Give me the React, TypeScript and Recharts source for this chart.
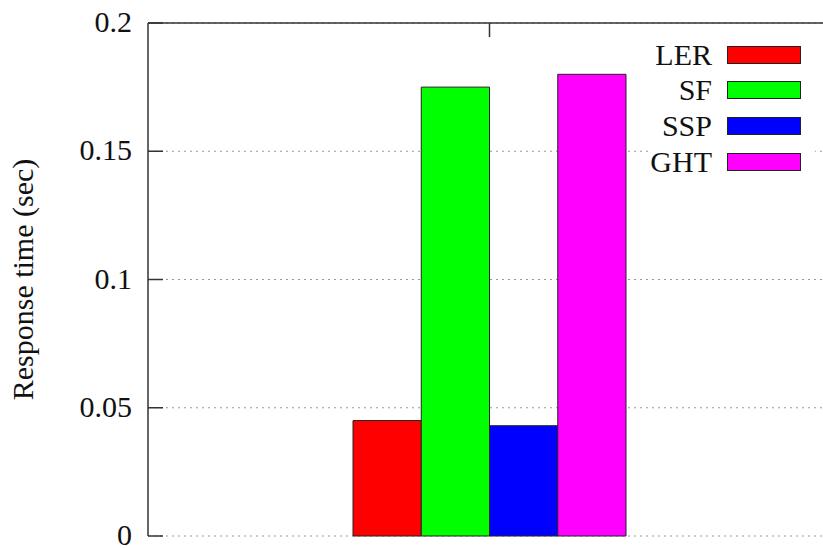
import React from "react";
import {
  BarChart,
  Bar,
  XAxis,
  YAxis,
  CartesianGrid,
  Legend,
} from "recharts";

// one group of four methods
const groups = ["all"];
const methods = ["LER", "SF", "SSP", "GHT"];
const responseTimes = [0.045, 0.175, 0.043, 0.18];
const colors = ["#ff0000", "#00ff00", "#0000ff", "#ff00ff"];
const yTicks = [0, 0.05, 0.1, 0.15, 0.2];

const FONT = "'Liberation Serif', 'Times New Roman', serif";
const AXIS = "#333";

const data = groups.map((name) => {
  const row: Record<string, string | number> = { name };
  methods.forEach((m, i) => {
    row[m] = responseTimes[i];
  });
  return row;
});

// left axis: inward tick + label to the left
const LeftTick = (props: any) => {
  const { x, y, payload } = props;
  return (
    <g>
      <line x1={x} x2={x + 15} y1={y} y2={y} stroke={AXIS} strokeWidth={1.5} />
      <text
        x={x - 16}
        y={y}
        dy={9}
        textAnchor="end"
        fontFamily={FONT}
        fontSize={30}
        fill="#111"
      >
        {String(payload.value)}
      </text>
    </g>
  );
};

// mirrored ticks on the right edge
const RightTick = (props: any) => {
  const { x, y } = props;
  return <line x1={x - 15} x2={x} y1={y} y2={y} stroke={AXIS} strokeWidth={1.5} />;
};

// category tick on the top border, pointing down
const TopTick = (props: any) => {
  const { x, y } = props;
  return <line x1={x} x2={x} y1={y} y2={y + 14} stroke={AXIS} strokeWidth={1.5} />;
};

const YLabel = (props: any) => {
  const { viewBox } = props;
  const cy = viewBox.y + viewBox.height / 2;
  return (
    <text
      x={33}
      y={cy}
      transform={`rotate(-90, 33, ${cy})`}
      textAnchor="middle"
      fontFamily={FONT}
      fontSize={30}
      fill="#111"
    >
      Response time (sec)
    </text>
  );
};

const KeyBox = (props: any) => {
  const items = [...(props.payload || [])].sort(
    (a: any, b: any) => methods.indexOf(a.value) - methods.indexOf(b.value)
  );
  return (
    <div style={{ background: "#fff", padding: "0 14px 0 0", fontFamily: FONT }}>
      {items.map((p: any) => (
        <div
          key={p.value}
          style={{
            height: 35.6,
            display: "flex",
            alignItems: "center",
            justifyContent: "flex-end",
          }}
        >
          <span style={{ fontSize: 30, color: "#111", lineHeight: "30px" }}>{p.value}</span>
          <span
            style={{
              display: "inline-block",
              width: 72,
              height: 16,
              marginLeft: 15,
              background: p.color,
              border: "1px solid #222",
            }}
          />
        </div>
      ))}
    </div>
  );
};

export default function App() {
  return (
    <div style={{ position: "absolute", left: 0, top: 0, background: "#fff" }}>
      <BarChart
        width={830}
        height={548}
        data={data}
        margin={{ top: 22, right: 7, bottom: 12, left: 0 }}
        barGap={0}
      >
        <CartesianGrid
          vertical={false}
          stroke="#999"
          strokeDasharray="2 4"
          strokeWidth={1}
        />
        <XAxis
          dataKey="name"
          height={0}
          tick={false}
          tickLine={false}
          padding={{ left: 8, right: 0 }}
          axisLine={{ stroke: AXIS, strokeWidth: 1.5 }}
        />
        <XAxis
          xAxisId="top"
          dataKey="name"
          orientation="top"
          height={1}
          tickSize={0}
          tickMargin={0}
          tickLine={false}
          tick={<TopTick />}
          padding={{ left: 8, right: 0 }}
          axisLine={{ stroke: AXIS, strokeWidth: 1.5 }}
        />
        <YAxis
          width={148}
          domain={[0, 0.2]}
          ticks={yTicks}
          tickSize={0}
          tickMargin={0}
          tickLine={false}
          tick={<LeftTick />}
          axisLine={{ stroke: AXIS, strokeWidth: 1.5 }}
          label={YLabel}
        />
        <YAxis
          yAxisId="right"
          orientation="right"
          width={0}
          domain={[0, 0.2]}
          ticks={yTicks}
          tickSize={0}
          tickMargin={0}
          tickLine={false}
          tick={<RightTick />}
          axisLine={{ stroke: AXIS, strokeWidth: 1.5 }}
        />
        <Legend
          layout="vertical"
          verticalAlign="middle"
          align="center"
          content={<KeyBox />}
          wrapperStyle={{ left: 650, top: 37, width: 165 }}
        />
        {methods.map((m, i) => (
          <Bar
            key={m}
            dataKey={m}
            fill={colors[i]}
            stroke="#222"
            strokeWidth={1}
            barSize={68.25}
            isAnimationActive={false}
          />
        ))}
      </BarChart>
    </div>
  );
}
